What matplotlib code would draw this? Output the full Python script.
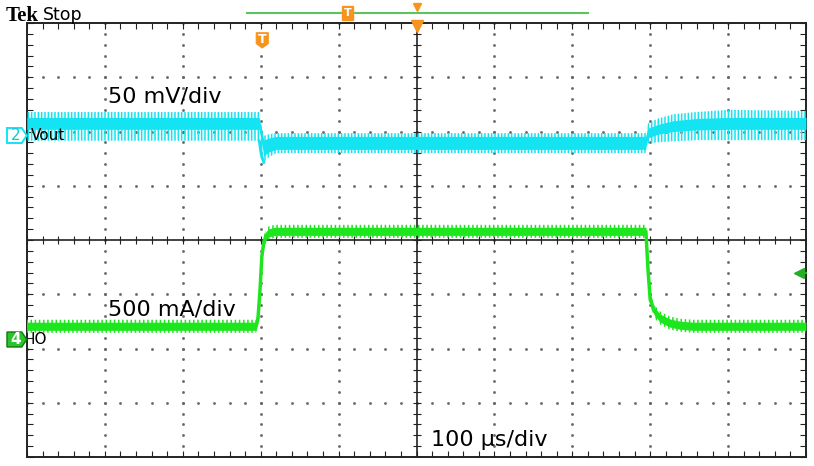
import matplotlib
matplotlib.use("Agg")
import matplotlib.pyplot as plt
from matplotlib.patches import Polygon
import numpy as np

# time axis in divisions (100 us/div), vertical in divisions
vout_t = [-5.0, -2.02, -1.99, -1.96, -1.90, -1.80, -1.60, 2.94, 2.97, 3.10, 3.30, 3.60, 4.00, 5.00]
vout_hi = [2.36, 2.36, 2.10, 1.92, 1.95, 1.97, 1.97, 1.97, 2.15, 2.24, 2.32, 2.36, 2.40, 2.38]
vout_lo = [1.83, 1.83, 1.55, 1.43, 1.52, 1.60, 1.60, 1.60, 1.78, 1.80, 1.82, 1.84, 1.84, 1.84]
vout_core_hi = [2.26, 2.26, 2.05, 1.84, 1.88, 1.91, 1.91, 1.91, 2.06, 2.13, 2.20, 2.24, 2.26, 2.26]
vout_core_lo = [2.04, 2.04, 1.80, 1.55, 1.62, 1.67, 1.67, 1.67, 1.88, 1.95, 2.00, 2.03, 2.04, 2.04]

io_t = [-5.0, -2.06, -2.035, -2.01, -1.985, -1.96, -1.93, -1.90, -1.82,
        2.945, 2.972, 3.00, 3.06, 3.13, 3.25, 3.38, 3.55, 5.0]
io_mid = [-1.59, -1.59, -1.45, -0.95, -0.30, -0.04, 0.08, 0.13, 0.16,
          0.16, -0.55, -1.10, -1.33, -1.44, -1.53, -1.57, -1.59, -1.59]
io_core = 0.075
io_noise = 0.12

labels = {"vout": "50 mV/div", "io": "500 mA/div", "time": "100 µs/div"}

CYAN = "#14E4F2"
GREEN = "#1EE61E"
ORANGE = "#F7941D"

plt.rcParams["hatch.linewidth"] = 1.1

fig = plt.figure(figsize=(8.14, 4.66), dpi=100)
ax = fig.add_axes([27 / 814, 9 / 466, 779 / 814, 434 / 466])
ax.set_xlim(-5, 5)
ax.set_ylim(-4, 4)

# graticule dots
minor = np.round(np.arange(-5, 5.001, 0.2), 3)
minor_y = np.round(np.arange(-4, 4.001, 0.2), 3)
for gx in range(-4, 5):
    if gx == 0:
        continue
    ax.plot([gx] * len(minor_y), minor_y, ls="none", marker="s", ms=0.9, color="#666666", zorder=1)
for gy in range(-3, 4):
    if gy == 0:
        continue
    ax.plot(minor, [gy] * len(minor), ls="none", marker="s", ms=0.9, color="#666666", zorder=1)

# centre cross with ticks
ax.axhline(0, color="#222222", lw=1.2, zorder=2)
ax.axvline(0, color="#222222", lw=1.2, zorder=2)
ax.plot(minor, [0] * len(minor), ls="none", marker="|", ms=6, mew=0.8, color="#222222", zorder=2)
ax.plot([0] * len(minor_y), minor_y, ls="none", marker="_", ms=6, mew=0.8, color="#222222", zorder=2)

ax.set_xticks(minor)
ax.set_yticks(minor_y)
ax.tick_params(which="both", direction="in", length=4, width=0.8, color="#222222",
               top=True, right=True, labelbottom=False, labelleft=False)
for s in ax.spines.values():
    s.set_linewidth(1.4)
    s.set_color("#222222")

# Vout trace
ax.fill_between(vout_t, vout_lo, vout_hi, facecolor="none", edgecolor=CYAN,
                hatch="|||||", linewidth=0, zorder=3)
ax.fill_between(vout_t, vout_core_lo, vout_core_hi, color=CYAN, linewidth=0, zorder=4)
ax.plot(vout_t[1:4], vout_lo[1:4], color=CYAN, lw=2, zorder=4)

# IO trace
io_mid = np.array(io_mid)
ax.fill_between(io_t, io_mid - io_noise, io_mid + io_noise, facecolor="none", edgecolor=GREEN,
                hatch="||||", linewidth=0, zorder=3)
ax.fill_between(io_t, io_mid - io_core, io_mid + io_core, color=GREEN, linewidth=0, zorder=4)
ax.plot(io_t, io_mid, color=GREEN, lw=2.5, zorder=4)

# scale labels
ax.text(-3.96, 2.64, labels["vout"], fontsize=16, va="center", ha="left", zorder=6)
ax.text(-3.96, -1.29, labels["io"], fontsize=16, va="center", ha="left", zorder=6)
ax.text(0.186, -3.69, labels["time"], fontsize=16, va="center", ha="left", zorder=6)

# channel markers
ax.add_patch(Polygon([(-5.257, 2.065), (-5.067, 2.065), (-5.003, 1.926), (-5.067, 1.788), (-5.257, 1.788)],
                     closed=True, facecolor="white", edgecolor=CYAN, lw=1.4, clip_on=False, zorder=7))
ax.text(-5.15, 1.926, "2", color="#10C8D8", fontsize=11, ha="center", va="center", clip_on=False, zorder=8)
ax.text(-4.95, 1.93, "Vout", fontsize=11, ha="left", va="center", zorder=8)

ax.add_patch(Polygon([(-5.257, -1.696), (-5.067, -1.696), (-5.003, -1.834), (-5.067, -1.972), (-5.257, -1.972)],
                     closed=True, facecolor="#2CC42C", edgecolor="#0E7A0E", lw=1.0, clip_on=False, zorder=7))
ax.text(-5.15, -1.834, "4", color="white", fontsize=11, fontweight="bold", ha="center", va="center",
        clip_on=False, zorder=8)
ax.text(-4.95, -1.83, "IO", fontsize=11, ha="left", va="center", zorder=8)

# trigger level arrow at right
ax.plot([4.93, 5.0], [-0.61, -0.61], color="#22B022", lw=1.5, clip_on=False, zorder=7)
ax.plot(4.91, -0.61, marker="<", ms=7, color="#22B022", clip_on=False, zorder=7)

# record bar / trigger markers at the top
ax.plot([-2.176, 2.20], [4.184, 4.184], color="#5CC45C", lw=1.5, clip_on=False, zorder=7)
ax.text(-0.88, 4.184, "T", color="white", fontsize=8, fontweight="bold", ha="center", va="center",
        bbox=dict(boxstyle="square,pad=0.15", fc=ORANGE, ec=ORANGE), clip_on=False, zorder=8)
ax.plot(0, 4.29, marker="v", ms=6, color=ORANGE, clip_on=False, zorder=8)
ax.plot(0, 3.94, marker="v", ms=9, color=ORANGE, clip_on=False, zorder=8)
ax.add_patch(Polygon([(-2.057, 3.82), (-1.903, 3.82), (-1.903, 3.62), (-1.98, 3.54), (-2.057, 3.62)],
                     closed=True, facecolor=ORANGE, edgecolor=ORANGE, lw=0.8, zorder=8))
ax.text(-1.98, 3.70, "T", color="white", fontsize=9, fontweight="bold", ha="center", va="center", zorder=9)

fig.text(6 / 814, 1 - 21 / 466, "Tek", fontsize=15, fontweight="bold", family="Liberation Serif",
         ha="left", va="baseline")
fig.text(43 / 814, 1 - 20 / 466, "Stop", fontsize=12.5, ha="left", va="baseline")

fig.savefig("out.png", dpi=100, facecolor="white")
